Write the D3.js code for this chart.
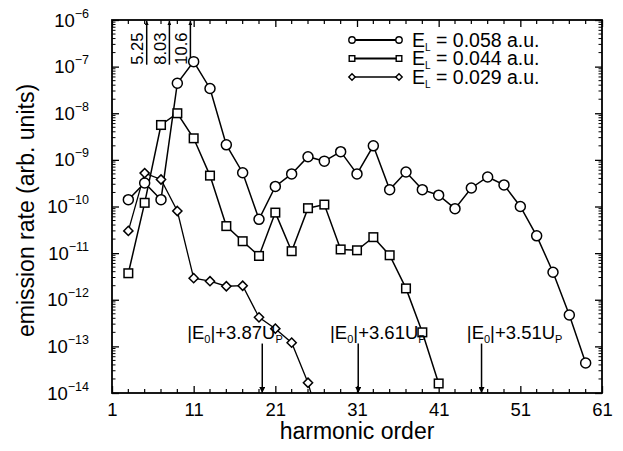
<!DOCTYPE html>
<html>
<head>
<meta charset="utf-8">
<script src="https://cdn.jsdelivr.net/npm/d3@7"></script>
<style>
  html, body { margin: 0; padding: 0; background: #fff; }
  svg { display: block; font-family: "Liberation Sans", Arial, Helvetica, sans-serif; }
</style>
</head>
<body>
<svg id="chart" width="623" height="451"></svg>
<script>
// Harmonic emission rates for three laser field strengths
const harmonics058 = [3,5,7,9,11,13,15,17,19,21,23,25,27,29,31,33,35,37,39,41,43,45,47,49,51,53,55,57,59];
const rate058 = [1.4e-10,3.2e-10,1.4e-10,4.4e-8,1.28e-7,3.4e-8,2.1e-9,5.3e-10,5.3e-11,2.7e-10,5.0e-10,1.17e-9,9.4e-10,1.5e-9,5.0e-10,2.0e-9,2.3e-10,5.5e-10,2.3e-10,1.75e-10,9.0e-11,2.5e-10,4.3e-10,2.9e-10,1.0e-10,2.35e-11,3.9e-12,4.7e-13,4.4e-14];

const harmonics044 = [3,5,7,9,11,13,15,17,19,21,23,25,27,29,31,33,35,37,39,41];
const rate044 = [3.7e-12,1.2e-10,5.6e-9,1.0e-8,2.9e-9,4.6e-10,3.8e-11,1.8e-11,8.7e-12,7.4e-11,1.1e-11,9.2e-11,1.1e-10,1.2e-11,1.15e-11,2.2e-11,9.0e-12,1.75e-12,2.0e-13,1.6e-14];

const harmonics029 = [3,5,7,9,11,13,15,17,19,21,23,25,27];
const rate029 = [3.0e-11,5.2e-10,3.8e-10,8.0e-11,2.9e-12,2.5e-12,1.95e-12,2.0e-12,4.2e-13,2.4e-13,1.2e-13,1.66e-14,1.0e-15];

const seriesNames = ["0.058", "0.044", "0.029"];

// Axis ticks
const xTicks = [1, 11, 21, 31, 41, 51, 61];
const yExponents = [-6, -7, -8, -9, -10, -11, -12, -13, -14];

// Ionization-time markers along the top (harmonic, label, arrow tail rate)
const topMarkHarmonic = [5.25, 8.03, 10.6];
const topMarkLabel = ["5.25", "8.03", "10.6"];
const topMarkTail = [1.1e-7, 1.1e-7, 1.55e-7];

// Cutoff markers along the bottom (harmonic, Up coefficient, label start harmonic)
const cutoffHarmonic = [19.4, 31.15, 46.25];
const cutoffCoeff = ["3.87", "3.61", "3.51"];
const cutoffLabelStart = [10.2, 27.7, 44.45];
const cutoffTail = 1.15e-13;

// ---- layout ----
const svg = d3.select("#chart");
const m = { left: 112, top: 20, right: 602, bottom: 393 };
const x = d3.scaleLinear().domain([1, 61]).range([m.left, m.right]);
const y = d3.scaleLog().domain([1e-14, 1e-6]).range([m.bottom, m.top]);
const FONT_TICK = 18.5;

svg.append("defs").append("clipPath").attr("id", "plot-clip")
  .append("rect").attr("x", m.left).attr("y", m.top)
  .attr("width", m.right - m.left).attr("height", m.bottom - m.top);

// ---- axes (ticks drawn inward on all four sides) ----
const xMinor = d3.range(3, 61, 2).filter(v => !xTicks.includes(v));
const yMinor = [];
for (let e = -14; e < -6; e++) for (let k = 2; k <= 9; k++) yMinor.push(k * Math.pow(10, e));

const axisBottom = d3.axisBottom(x).tickValues(xTicks).tickSizeInner(-7).tickSizeOuter(0).tickPadding(10).tickFormat(d3.format("d"));
const gxb = svg.append("g").attr("transform", `translate(0,${m.bottom})`).call(axisBottom);
gxb.selectAll("text").attr("font-size", FONT_TICK).attr("font-family", "Liberation Sans, Arial, sans-serif").attr("fill", "#000");
svg.append("g").attr("transform", `translate(0,${m.top})`)
  .call(d3.axisTop(x).tickValues(xTicks).tickSizeInner(-7).tickSizeOuter(0).tickFormat(""));
[[m.bottom, -1], [m.top, 1]].forEach(([yy, dir]) => {
  svg.append("g").selectAll("line").data(xMinor).join("line")
    .attr("x1", d => x(d)).attr("x2", d => x(d))
    .attr("y1", yy).attr("y2", yy + dir * 4).attr("stroke", "#000").attr("stroke-width", 1.2);
});

svg.append("g").attr("transform", `translate(${m.left},0)`)
  .call(d3.axisLeft(y).tickValues(yExponents.map(e => Math.pow(10, e))).tickSizeInner(-7).tickSizeOuter(0).tickFormat(""));
svg.append("g").attr("transform", `translate(${m.right},0)`)
  .call(d3.axisRight(y).tickValues(yExponents.map(e => Math.pow(10, e))).tickSizeInner(-7).tickSizeOuter(0).tickFormat(""));
[[m.left, 1], [m.right, -1]].forEach(([xx, dir]) => {
  svg.append("g").selectAll("line").data(yMinor).join("line")
    .attr("x1", xx).attr("x2", xx + dir * 3.5)
    .attr("y1", d => y(d)).attr("y2", d => y(d)).attr("stroke", "#000").attr("stroke-width", 1);
});
svg.selectAll(".domain").attr("stroke", "none");
svg.selectAll(".tick line").attr("stroke", "#000").attr("stroke-width", 1.3);

// y tick labels as 10^n
const ylab = svg.append("g").attr("fill", "#000");
yExponents.forEach(e => {
  const t = ylab.append("text").attr("x", m.left - 23).attr("y", y(Math.pow(10, e)) + 6.5)
    .attr("text-anchor", "end").attr("font-size", FONT_TICK);
  t.append("tspan").text("10");
  t.append("tspan").attr("font-size", 12.5).attr("dy", -9).text("\u2212" + (-e));
});

// frame
svg.append("rect").attr("x", m.left).attr("y", m.top)
  .attr("width", m.right - m.left).attr("height", m.bottom - m.top)
  .attr("fill", "none").attr("stroke", "#000").attr("stroke-width", 1.8);

// axis titles
svg.append("text").attr("x", (m.left + m.right) / 2).attr("y", 439)
  .attr("text-anchor", "middle").attr("font-size", 23).text("harmonic order");
svg.append("text").attr("transform", `translate(34,${(m.top + m.bottom) / 2 + 4}) rotate(-90)`)
  .attr("text-anchor", "middle").attr("font-size", 23).text("emission rate (arb. units)");

// ---- series ----
const symbolFor = {
  "0.058": (g, r) => g.append("circle").attr("r", r),
  "0.044": (g, r) => g.append("rect").attr("x", -r).attr("y", -r).attr("width", 2 * r).attr("height", 2 * r),
  "0.029": (g, r) => g.append("path").attr("d", `M0,${-r}L${r},0L0,${r}L${-r},0Z`)
};
const seriesData = [
  { name: seriesNames[0], xs: harmonics058, ys: rate058, r: 5, lw: 1.5 },
  { name: seriesNames[1], xs: harmonics044, ys: rate044, r: 4.3, lw: 1.5 },
  { name: seriesNames[2], xs: harmonics029, ys: rate029, r: 4.6, lw: 1.3 }
];
const plot = svg.append("g").attr("clip-path", "url(#plot-clip)");
const line = d3.line().x(d => x(d[0])).y(d => y(d[1]));
seriesData.forEach(s => {
  const pts = s.xs.map((h, i) => [h, s.ys[i]]);
  plot.append("path").datum(pts).attr("d", line)
    .attr("fill", "none").attr("stroke", "#000").attr("stroke-width", s.lw);
});
seriesData.forEach(s => {
  const pts = s.xs.map((h, i) => [h, s.ys[i]]);
  pts.forEach(p => {
    const g = plot.append("g").attr("transform", `translate(${x(p[0])},${y(p[1])})`);
    symbolFor[s.name](g, s.r).attr("fill", "#fff").attr("stroke", "#000").attr("stroke-width", 1.5);
  });
});

// ---- legend ----
const legend = svg.append("g");
seriesData.forEach((s, i) => {
  const ly = 40 + i * 18.5;
  legend.append("line").attr("x1", 352).attr("x2", 399).attr("y1", ly).attr("y2", ly)
    .attr("stroke", "#000").attr("stroke-width", i < 2 ? 2 : 1.3);
  [352, 399].forEach(lx => {
    const g = legend.append("g").attr("transform", `translate(${lx},${ly})`);
    symbolFor[s.name](g, i === 1 ? 2.8 : 3.2).attr("fill", "#fff").attr("stroke", "#000").attr("stroke-width", 1.4);
  });
  const t = legend.append("text").attr("x", 412).attr("y", ly + 6.5).attr("font-size", 19.5);
  t.append("tspan").text("E");
  t.append("tspan").attr("font-size", 10).attr("dy", 4).text("L");
  t.append("tspan").attr("dy", -4).text(" = " + s.name + " a.u.");
});

// ---- arrow markers ----
const defs = svg.select("defs");
defs.append("marker").attr("id", "head").attr("viewBox", "0 0 10 10")
  .attr("refX", 10).attr("refY", 5).attr("markerWidth", 7).attr("markerHeight", 6)
  .attr("markerUnits", "userSpaceOnUse").attr("orient", "auto")
  .append("path").attr("d", "M0,0L10,5L0,10Z").attr("fill", "#000");
defs.append("marker").attr("id", "headSmall").attr("viewBox", "0 0 10 10")
  .attr("refX", 10).attr("refY", 5).attr("markerWidth", 5).attr("markerHeight", 4)
  .attr("markerUnits", "userSpaceOnUse").attr("orient", "auto")
  .append("path").attr("d", "M0,0L10,5L0,10Z").attr("fill", "#000");

// top markers
topMarkHarmonic.forEach((h, i) => {
  svg.append("line").attr("x1", x(h)).attr("x2", x(h))
    .attr("y1", y(topMarkTail[i])).attr("y2", m.top + 1)
    .attr("stroke", "#000").attr("stroke-width", 1.5).attr("marker-end", "url(#headSmall)");
  svg.append("text").attr("transform", `translate(${x(h) - 3.5},${y(1.1e-7)}) rotate(-90)`)
    .attr("font-size", 16.5).text(topMarkLabel[i]);
});

// cutoff markers
cutoffHarmonic.forEach((h, i) => {
  svg.append("line").attr("x1", x(h)).attr("x2", x(h))
    .attr("y1", y(cutoffTail)).attr("y2", m.bottom)
    .attr("stroke", "#000").attr("stroke-width", 1.5).attr("marker-end", "url(#head)");
  const t = svg.append("text").attr("x", x(cutoffLabelStart[i])).attr("y", 339).attr("font-size", FONT_TICK);
  t.append("tspan").text("|E");
  t.append("tspan").attr("font-size", 11).attr("dy", 4).text("0");
  t.append("tspan").attr("dy", -4).text("|+" + cutoffCoeff[i] + "U");
  t.append("tspan").attr("font-size", 11).attr("dy", 4).text("P");
});
</script>
</body>
</html>
